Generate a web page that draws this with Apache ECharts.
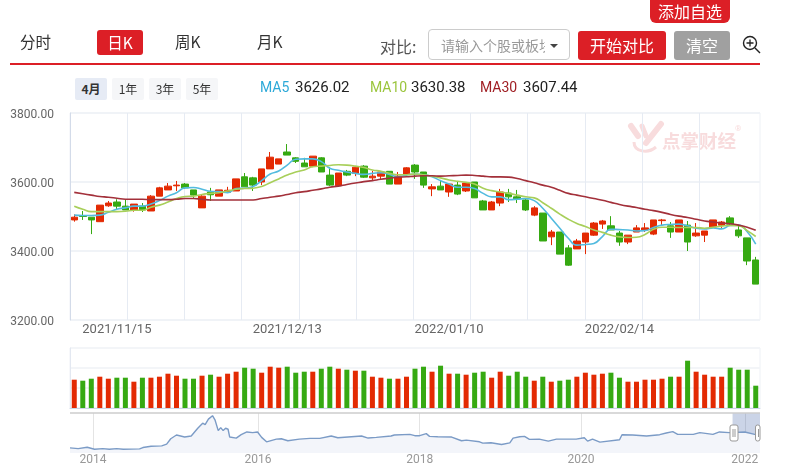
<!DOCTYPE html>
<html>
<head>
<meta charset="utf-8">
<title>日K</title>
<script src="https://cdn.jsdelivr.net/npm/echarts@6/dist/echarts.min.js"></script>
<style>
  html, body { margin: 0; padding: 0; background: #fff; overflow: hidden; }
  body { width: 785px; height: 475px; position: relative; font-family: "Noto Sans CJK SC", "Noto Sans", sans-serif; color: #333; }
  #main { position: absolute; left: 0; top: 0; width: 785px; height: 475px; }
  .el { position: absolute; white-space: nowrap; z-index: 2; }
  .tab { font-size: 15.5px; line-height: 25px; top: 29px; }
  .btn { color: #fff; background: #dc1f26; border-radius: 3px; text-align: center; }
  .chip { top: 78px; width: 32px; height: 22px; line-height: 22px; text-align: center; font-size: 12px; background: #f5f6f8; border-radius: 2px; color: #333; }
  .ma { top: 78px; line-height: 18px; font-size: 15px; font-family: Roboto, sans-serif; color: #222; }
  .name { font-size: 14px; }
</style>
</head>
<body>
<div id="main"></div>
<div class="el tab" style="left:20px">分时</div>
<div class="el tab btn" style="left:97px;top:30px;width:46px;height:25px;line-height:24px">日K</div>
<div class="el tab" style="left:175px">周K</div>
<div class="el tab" style="left:257px">月K</div>
<div class="el" style="left:380px;top:35px;font-size:16px;line-height:22px;color:#555">对比:</div>
<div class="el" style="left:428px;top:29px;width:140px;height:29px;border:1px solid #ccc;border-radius:4px"></div>
<div class="el" style="left:441px;top:35px;width:104px;overflow:hidden;font-size:14px;line-height:20px;color:#999">请输入个股或板块</div>
<div class="el" style="left:550px;top:44px;width:0;height:0;border-left:4px solid transparent;border-right:4px solid transparent;border-top:4px solid #444"></div>
<div class="el btn" style="left:650px;top:0;width:80px;height:23px;line-height:22px;font-size:16px;border-radius:0 0 6px 6px">添加自选</div>
<div class="el btn" style="left:578px;top:31px;width:88px;height:29px;line-height:29px;font-size:16px">开始对比</div>
<div class="el btn" style="left:674px;top:31px;width:56px;height:29px;line-height:29px;font-size:16px;background:#a0a0a0">清空</div>
<svg class="el" style="left:741px;top:34px" width="20" height="20" viewBox="0 0 20 20">
  <circle cx="9" cy="9" r="6.5" fill="none" stroke="#222" stroke-width="1.4"/>
  <path d="M5.5 9H12.5M9 5.5V12.5" stroke="#222" stroke-width="1.3"/>
  <path d="M14 14L19 19" stroke="#222" stroke-width="1.4"/>
</svg>
<div class="el" style="left:10px;top:63px;width:750px;height:2px;background:#dc1f26"></div>
<div class="el chip" style="left:75px;background:#e6ebf5;font-weight:bold">4月</div>
<div class="el chip" style="left:112px">1年</div>
<div class="el chip" style="left:149px">3年</div>
<div class="el chip" style="left:186px">5年</div>
<div class="el ma name" style="left:260px;color:#2da9d8">MA5</div>
<div class="el ma" style="left:295px">3626.02</div>
<div class="el ma name" style="left:370px;color:#9bc53d">MA10</div>
<div class="el ma" style="left:411px">3630.38</div>
<div class="el ma name" style="left:480px;color:#a01f24">MA30</div>
<div class="el ma" style="left:523px">3607.44</div>

<script>
var dates = [
  '2021/11/08','2021/11/09','2021/11/10','2021/11/11','2021/11/12','2021/11/15','2021/11/16','2021/11/17','2021/11/18','2021/11/19',
  '2021/11/22','2021/11/23','2021/11/24','2021/11/25','2021/11/26','2021/11/29','2021/11/30','2021/12/01','2021/12/02','2021/12/03',
  '2021/12/06','2021/12/07','2021/12/08','2021/12/09','2021/12/10','2021/12/13','2021/12/14','2021/12/15','2021/12/16','2021/12/17',
  '2021/12/20','2021/12/21','2021/12/22','2021/12/23','2021/12/24','2021/12/27','2021/12/28','2021/12/29','2021/12/30','2021/12/31',
  '2022/01/04','2022/01/05','2022/01/06','2022/01/07','2022/01/10','2022/01/11','2022/01/12','2022/01/13','2022/01/14','2022/01/17',
  '2022/01/18','2022/01/19','2022/01/20','2022/01/21','2022/01/24','2022/01/25','2022/01/26','2022/01/27','2022/01/28','2022/02/07',
  '2022/02/08','2022/02/09','2022/02/10','2022/02/11','2022/02/14','2022/02/15','2022/02/16','2022/02/17','2022/02/18','2022/02/21',
  '2022/02/22','2022/02/23','2022/02/24','2022/02/25','2022/02/28','2022/03/01','2022/03/02','2022/03/03','2022/03/04','2022/03/07',
  '2022/03/08'
];
var labelDates = ['2021/11/15', '2021/12/13', '2022/01/10', '2022/02/14'];

// open, close, low, high
var candles = [
  [3490,3498,3485,3506],[3502,3500,3490,3516],[3498,3490,3449,3498],[3485,3533,3485,3533],[3531,3539,3528,3545],
  [3542,3530,3521,3550],[3530,3519,3519,3550],[3519,3536,3514,3536],[3530,3519,3513,3539],[3516,3559,3516,3562],
  [3559,3583,3559,3586],[3577,3588,3577,3597],[3589,3591,3574,3603],[3594,3583,3580,3597],[3577,3562,3554,3577],
  [3525,3559,3525,3562],[3571,3563,3545,3583],[3559,3577,3559,3577],[3570,3576,3568,3586],[3574,3609,3574,3609],
  [3615,3586,3586,3626],[3612,3591,3574,3615],[3600,3638,3591,3638],[3638,3672,3638,3687],[3652,3667,3652,3667],
  [3687,3678,3678,3710],[3670,3660,3655,3672],[3655,3644,3644,3670],[3646,3675,3643,3675],[3670,3629,3629,3672],
  [3620,3591,3588,3643],[3589,3626,3589,3626],[3631,3620,3617,3635],[3625,3643,3617,3643],[3646,3614,3612,3649],
  [3612,3617,3603,3632],[3617,3629,3606,3632],[3631,3594,3594,3631],[3594,3617,3594,3629],[3623,3641,3623,3643],
  [3649,3629,3609,3652],[3629,3591,3583,3629],[3580,3586,3559,3594],[3588,3577,3577,3606],[3571,3594,3557,3594],
  [3591,3565,3562,3603],[3574,3597,3571,3600],[3600,3554,3554,3600],[3545,3519,3519,3548],[3519,3542,3519,3545],
  [3539,3571,3530,3580],[3568,3557,3542,3580],[3557,3551,3539,3577],[3548,3519,3516,3551],[3504,3525,3501,3530],
  [3510,3429,3429,3510],[3441,3455,3417,3461],[3455,3391,3391,3455],[3409,3359,3357,3417],[3406,3429,3406,3435],
  [3426,3452,3391,3452],[3446,3481,3444,3484],[3478,3487,3464,3490],[3473,3461,3461,3501],[3452,3426,3415,3458],
  [3426,3446,3420,3446],[3455,3467,3455,3475],[3461,3467,3455,3481],[3449,3490,3446,3490],[3488,3490,3473,3493],
  [3473,3455,3438,3484],[3455,3490,3455,3490],[3475,3426,3400,3487],[3444,3452,3441,3481],[3446,3458,3426,3458],
  [3470,3490,3470,3490],[3475,3484,3467,3487],[3496,3478,3473,3501],[3461,3444,3438,3473],[3438,3371,3359,3438],
  [3374,3304,3304,3383]
];

var ma5 = [
  3504,3503,3503,3504,3512,3521,3525,3530,3530,3536,3546,3559,3569,3583,3584,3579,3573,3572,3569,3581,3582,3587,3604,3623,3632,3649,3666,
  3667,3667,3659,3640,3634,3629,3625,3622,3625,3627,3622,3615,3620,3623,3621,3615,3604,3594,3585,3585,3581,3567,3557,3557,3549,3550,3552,
  3546,3524,3495,3466,3437,3417,3419,3422,3442,3463,3462,3461,3458,3459,3468,3475,3477,3478,3473,3466,3464,3467,3464,3474,3475,3456,3420
];
var ma10 = [
  3530,3521,3514,3514,3514,3514,3515,3518,3518,3527,3533,3542,3552,3558,3559,3564,3567,3569,3574,3579,3581,3582,3587,3598,3609,3620,3629,
  3635,3644,3646,3648,3650,3649,3646,3642,3635,3631,3625,3621,3621,3623,3621,3617,3612,3606,3602,3599,3594,3582,3575,3571,3567,3562,3557,
  3554,3540,3524,3507,3492,3480,3471,3461,3454,3446,3441,3439,3440,3448,3463,3469,3469,3468,3468,3468,3466,3469,3472,3474,3473,3459,3442
];
var ma30 = [
  3570,3566,3562,3558,3556,3553,3550,3550,3550,3549,3549,3549,3550,3552,3552,3550,3548,3548,3548,3548,3548,3548,3552,3556,3559,3564,3569,
  3572,3576,3580,3585,3588,3593,3597,3601,3604,3608,3611,3614,3615,3617,3618,3618,3617,3618,3619,3620,3619,3617,3615,3615,3614,3610,3604,
  3598,3591,3585,3576,3567,3562,3557,3552,3547,3541,3535,3530,3526,3521,3517,3512,3506,3501,3497,3492,3487,3484,3481,3479,3475,3469,3460
];

var volumes = [
  283,273,293,313,293,303,303,263,303,303,313,343,323,293,293,323,333,313,343,363,
  403,393,353,413,403,413,353,363,363,393,413,393,383,373,373,313,303,293,293,313,
  393,413,363,423,343,343,333,353,363,303,363,323,363,313,273,313,263,273,283,313,
  353,333,343,353,303,263,263,283,283,293,313,313,473,363,333,313,313,403,383,383,223
];

// overview of the index since late 2013: [decimal year, level]
var overview = [
  [2013.72,2159],[2013.82,2095],[2013.93,2223],[2014.02,2032],[2014.12,2095],[2014.20,2032],[2014.29,2095],[2014.37,2032],
  [2014.57,2064],[2014.61,2191],[2014.71,2318],[2014.84,2350],[2014.90,2509],[2014.95,3018],[2015.02,3367],[2015.12,3177],
  [2015.20,3272],[2015.28,4003],[2015.34,4480],[2015.37,4353],[2015.41,4862],[2015.46,5180],[2015.49,4798],[2015.53,3781],
  [2015.56,4067],[2015.59,3781],[2015.62,4003],[2015.65,3908],[2015.67,3177],[2015.75,3081],[2015.81,3399],[2015.88,3654],
  [2015.95,3590],[2016.01,3654],[2016.06,3145],[2016.12,2731],[2016.24,2986],[2016.30,3018],[2016.38,2827],[2016.52,2986],
  [2016.65,3049],[2016.77,3049],[2016.91,3272],[2016.99,3113],[2017.28,3272],[2017.36,3081],[2017.46,3145],[2017.64,3272],
  [2017.68,3367],[2017.87,3431],[2017.93,3304],[2017.99,3304],[2018.07,3495],[2018.11,3240],[2018.21,3208],[2018.38,3177],
  [2018.50,2827],[2018.56,2890],[2018.72,2731],[2018.76,2604],[2018.86,2636],[2018.99,2477],[2019.09,2636],[2019.13,3081],
  [2019.21,3208],[2019.27,3240],[2019.33,2954],[2019.45,2986],[2019.56,2795],[2019.66,2986],[2019.90,2986],[2020.00,3113],
  [2020.04,2795],[2020.10,2986],[2020.19,2700],[2020.43,2922],[2020.46,3399],[2020.59,3367],[2020.76,3272],[2020.92,3399],
  [2021.00,3558],[2021.08,3685],[2021.14,3431],[2021.33,3431],[2021.41,3590],[2021.57,3431],[2021.65,3654],[2021.77,3590],
  [2021.96,3654],[2022.08,3431],[2022.145,3367]
];
// where each January falls on the overview axis (trading days are not spread evenly)
var overviewYears = [2014, 2016.015, 2017.99, 2019.96, 2021.96];
var selectedRange = [2021.81, 2022.145];
var ruleSteps = [1, 2, 3, 4, 5, 6, 7, 8, 9, 10, 11];

var RED = '#e32a03';
var GREEN = '#36a912';
var MARK = '#f8dcdd';

var volumeBars = volumes.map(function (v, i) {
  var up = candles[i][1] >= candles[i][0];
  return { value: v, itemStyle: { color: up ? RED : GREEN } };
});

function handle(x, w, bars) {
  var parts = [
    { type: 'rect', shape: { x: x, y: 425, width: w, height: 16, r: 2 }, style: { fill: '#fff', stroke: '#999', lineWidth: 1 }, z: 20 }
  ];
  bars.forEach(function (dx) {
    parts.push({ type: 'line', shape: { x1: x + dx, y1: 429, x2: x + dx, y2: 437 }, style: { stroke: '#999', lineWidth: 1 }, z: 21 });
  });
  return parts;
}

var chart = echarts.init(document.getElementById('main'), null, { renderer: 'canvas' });

var option = {
  animation: false,
  backgroundColor: '#fff',
  textStyle: { fontFamily: 'Roboto, sans-serif' },
  grid: [
    { left: 70, top: 113, width: 690, height: 207, show: true, borderColor: '#eef1f6', borderWidth: 1 },
    { left: 70, top: 348, width: 690, height: 60, show: true, borderColor: '#eef1f6', borderWidth: 1 },
    { left: 70, top: 413, width: 690, height: 40 },
    // same box as the first grid, only carries the vertical rules
    { left: 70, top: 113, width: 690, height: 207 }
  ],
  xAxis: [
    {
      type: 'category', gridIndex: 0, data: dates,
      axisLine: { show: false }, axisTick: { show: false },
      axisLabel: {
        color: '#666', fontSize: 13, margin: 3,
        interval: function (i, v) { return labelDates.indexOf(v) >= 0; }
      },
      splitLine: { show: false }
    },
    {
      type: 'category', gridIndex: 1, data: dates,
      axisLine: { show: true, lineStyle: { color: '#ccd6e6' } }, axisTick: { show: false }, axisLabel: { show: false }
    },
    {
      type: 'value', gridIndex: 2, min: 2013.72, max: 2022.145,
      axisLine: { show: false },
      axisTick: { show: false, customValues: overviewYears },
      axisLabel: {
        color: '#999', fontSize: 12, margin: 1, customValues: overviewYears,
        formatter: function (v) { return String(Math.round(v)); }
      },
      splitLine: { show: true, lineStyle: { color: '#e4e4e4' } }
    },
    {
      type: 'value', gridIndex: 3, min: 0, max: 12.06,
      axisLine: { show: false },
      axisTick: { show: false, customValues: ruleSteps },
      axisLabel: { show: false, customValues: ruleSteps },
      splitLine: { show: true, lineStyle: { color: '#e6ebf3' } }
    }
  ],
  yAxis: [
    {
      type: 'value', gridIndex: 0, min: 3200, max: 3800, interval: 200,
      axisLine: { show: true, lineStyle: { color: '#d3dbe9' } }, axisTick: { show: false },
      axisLabel: {
        color: '#666', fontSize: 12, margin: 16, verticalAlign: 'top', lineHeight: 4,
        formatter: function (v) { return v.toFixed(2); }
      },
      splitLine: { show: true, lineStyle: { color: '#f0f3f7', width: 2 } }
    },
    {
      type: 'value', gridIndex: 1, min: 0, max: 600, interval: 200,
      axisLine: { show: true, lineStyle: { color: '#e3e8f1' } }, axisTick: { show: false }, axisLabel: { show: false },
      splitLine: { show: true, lineStyle: { color: '#f3f5f8', width: 2 } }
    },
    {
      type: 'value', gridIndex: 2, min: 1680, max: 5434,
      axisLine: { show: false }, axisTick: { show: false }, axisLabel: { show: false }, splitLine: { show: false }
    },
    {
      type: 'value', gridIndex: 3, min: 0, max: 1,
      axisLine: { show: false }, axisTick: { show: false }, axisLabel: { show: false }, splitLine: { show: false }
    }
  ],
  series: [
    {
      type: 'line', xAxisIndex: 3, yAxisIndex: 3, silent: true, showSymbol: false,
      data: ruleSteps.map(function (s) { return [s, 0]; }),
      lineStyle: { opacity: 0 }
    },
    {
      name: '日K', type: 'candlestick', xAxisIndex: 0, yAxisIndex: 0, data: candles, barWidth: 7,
      itemStyle: { color: RED, color0: GREEN, borderColor: RED, borderColor0: GREEN, borderWidth: 1 }
    },
    { name: 'MA5', type: 'line', xAxisIndex: 0, yAxisIndex: 0, data: ma5, smooth: true, showSymbol: false, z: 4, lineStyle: { color: '#52bbdf', width: 1.6 } },
    { name: 'MA10', type: 'line', xAxisIndex: 0, yAxisIndex: 0, data: ma10, smooth: true, showSymbol: false, z: 4, lineStyle: { color: '#a8cf5a', width: 1.6 } },
    { name: 'MA30', type: 'line', xAxisIndex: 0, yAxisIndex: 0, data: ma30, smooth: true, showSymbol: false, z: 4, lineStyle: { color: '#a3303a', width: 1.6 } },
    { name: '成交量', type: 'bar', xAxisIndex: 1, yAxisIndex: 1, data: volumeBars, barWidth: 5 },
    {
      name: '走势', type: 'line', xAxisIndex: 2, yAxisIndex: 2, data: overview, showSymbol: false,
      lineStyle: { color: '#7b9bc6', width: 1.4 },
      areaStyle: { color: '#f3f5fa', opacity: 1 },
      markArea: {
        silent: true,
        itemStyle: { color: 'rgba(47,84,160,0.25)' },
        data: [[{ xAxis: selectedRange[0] }, { xAxis: selectedRange[1] }]]
      }
    }
  ],
  graphic: [
    { type: 'line', shape: { x1: 70, y1: 413, x2: 760, y2: 413 }, style: { stroke: '#ccc', lineWidth: 1.5 }, z: 10 }
  ].concat(handle(730, 8, [3, 5]), handle(755.5, 4.5, [3]), [
    // watermark
    { type: 'line', shape: { x1: 631, y1: 126, x2: 638, y2: 136 }, style: { stroke: MARK, lineWidth: 6, lineCap: 'round' }, z: 0 },
    { type: 'line', shape: { x1: 642, y1: 126, x2: 646, y2: 136 }, style: { stroke: MARK, lineWidth: 5, lineCap: 'round' }, z: 0 },
    { type: 'line', shape: { x1: 661, y1: 124, x2: 646, y2: 143 }, style: { stroke: MARK, lineWidth: 6, lineCap: 'round' }, z: 0 },
    { type: 'bezierCurve', shape: { x1: 634, y1: 142, cpx1: 634, cpy1: 152, cpx2: 648, cpy2: 154, x2: 656, y2: 147 }, style: { stroke: MARK, fill: 'none', lineWidth: 3 }, z: 0 },
    { type: 'text', style: { x: 662, y: 132, text: '点掌财经', fill: MARK, font: 'bold 18.5px "Noto Sans CJK SC"' }, z: 0 },
    { type: 'text', style: { x: 735, y: 125, text: '®', fill: MARK, font: '8px Roboto' }, z: 0 }
  ])
};

chart.setOption(option);
</script>
</body>
</html>
